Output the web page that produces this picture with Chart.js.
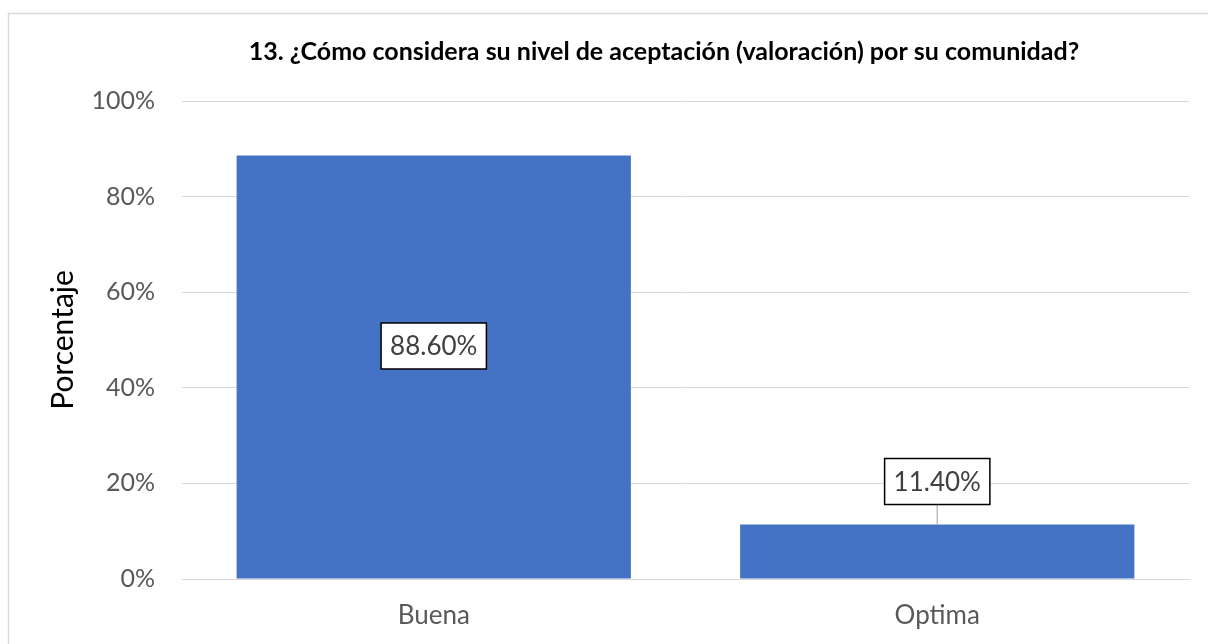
<!DOCTYPE html>
<html>
<head>
<meta charset="utf-8">
<script src="https://cdn.jsdelivr.net/npm/chart.js@4"></script>
<style>
  html, body { margin: 0; padding: 0; background: #fff; overflow: hidden; }
  #wrap { position: relative; width: 1328px; height: 644px; }
</style>
</head>
<body>
<div id="wrap"><canvas id="c"></canvas></div>
<script>
// Survey answers for question 13
const categories = ['Buena', 'Optima'];
const percentages = [88.6, 11.4];
const valueLabels = ['88.60%', '11.40%'];
const yTickValues = [0, 20, 40, 60, 80, 100];

const FONT = 'Lato, "Noto Sans", sans-serif';

// Frame around the chart
const framePlugin = {
  id: 'frame',
  beforeDraw(chart) {
    const ctx = chart.ctx;
    ctx.save();
    ctx.strokeStyle = '#d9d9d9';
    ctx.lineWidth = 1.5;
    ctx.strokeRect(8.5, 13.5, chart.width + 50, chart.height + 50);
    ctx.restore();
  }
};

// Boxed value labels: centred inside tall bars, above short bars with a leader line
const boxLabelPlugin = {
  id: 'boxLabels',
  afterDatasetsDraw(chart) {
    const ctx = chart.ctx;
    const meta = chart.getDatasetMeta(0);
    ctx.save();
    ctx.font = '26px ' + FONT;
    ctx.textAlign = 'center';
    ctx.textBaseline = 'middle';
    meta.data.forEach((bar, i) => {
      const text = valueLabels[i];
      const w = ctx.measureText(text).width + 18;
      const h = 46;
      const x = bar.x;
      let cy;
      const inside = (bar.base - bar.y) > 150;
      if (inside) {
        cy = (bar.y + bar.base) / 2 - 21;
      } else {
        cy = bar.y - 20 - h / 2;
        ctx.strokeStyle = '#bfbfbf';
        ctx.lineWidth = 1.5;
        ctx.beginPath();
        ctx.moveTo(x, cy + h / 2);
        ctx.lineTo(x, bar.y);
        ctx.stroke();
      }
      ctx.fillStyle = '#ffffff';
      ctx.fillRect(x - w / 2, cy - h / 2, w, h);
      ctx.strokeStyle = '#000000';
      ctx.lineWidth = 1.5;
      ctx.strokeRect(x - w / 2, cy - h / 2, w, h);
      ctx.fillStyle = '#404040';
      ctx.fillText(text, x, cy + 1);
    });
    ctx.restore();
  }
};

new Chart(document.getElementById('c'), {
  type: 'bar',
  data: {
    labels: categories,
    datasets: [{
      data: percentages,
      backgroundColor: '#4472c4',
      borderWidth: 0,
      categoryPercentage: 1.0,
      barPercentage: 0.783
    }]
  },
  options: {
    responsive: true,
    maintainAspectRatio: false,
    animation: false,
    layout: { padding: 0 },
    plugins: {
      legend: { display: false },
      tooltip: { enabled: false },
      title: {
        display: true,
        text: '13. ¿Cómo considera su nivel de aceptación (valoración) por su comunidad?',
        color: '#000000',
        font: { family: FONT, size: 25, weight: 'bold' },
        padding: { top: 37, bottom: 34 }
      }
    },
    scales: {
      x: {
        grid: { display: false, drawTicks: false },
        border: { display: true, color: '#d9d9d9', width: 1 },
        ticks: { color: '#595959', font: { family: FONT, size: 26 }, padding: 21 },
        afterFit(scale) { scale.height = 65; }
      },
      y: {
        min: 0,
        max: 100,
        afterBuildTicks(scale) { scale.ticks = yTickValues.map(v => ({ value: v })); },
        grid: { color: '#d9d9d9', lineWidth: 1, drawTicks: false },
        border: { display: false },
        ticks: {
          color: '#595959',
          font: { family: FONT, size: 25 },
          padding: 27,
          callback: v => v + '%'
        },
        title: {
          display: true,
          text: 'Porcentaje',
          color: '#000000',
          font: { family: FONT, size: 30 },
          padding: { top: 45, bottom: 0 }
        },
        afterFit(scale) { scale.width = 182; }
      },
      // empty margin to the right of the plot
      yRight: {
        position: 'right',
        min: 0,
        max: 100,
        grid: { display: false, drawTicks: false },
        border: { display: false },
        ticks: { display: false },
        afterFit(scale) { scale.width = 139; }
      }
    }
  },
  plugins: [framePlugin, boxLabelPlugin]
});
</script>
</body>
</html>
